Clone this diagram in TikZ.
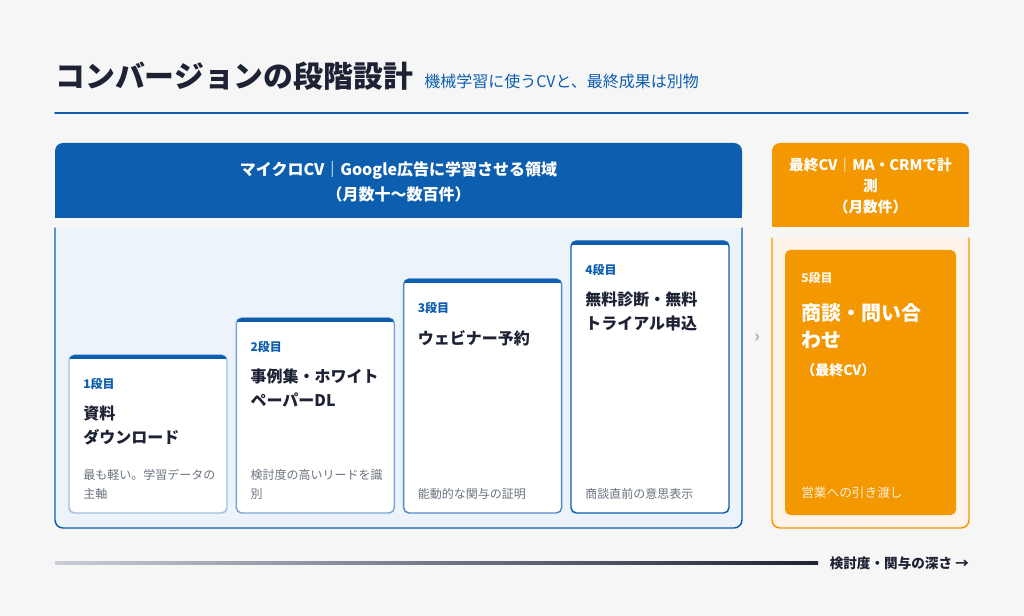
\documentclass[tikz,border=0pt]{standalone}
\usepackage{fontspec}
\setmainfont{Noto Sans CJK JP}
\usetikzlibrary{positioning}
\definecolor{cvbg}{HTML}{F6F6F6}
\definecolor{cvblue}{HTML}{0D5EAF}
\definecolor{cvpanel}{HTML}{EDF3FA}
\definecolor{cvorange}{HTML}{F39800}
\definecolor{cvcream}{HTML}{FDF3E8}
\definecolor{cvink}{HTML}{1E2235}
\definecolor{cvgray}{HTML}{6B7280}
\definecolor{cvlight}{HTML}{C9CDD6}
\tikzset{
	steplab/.style={anchor=west, inner sep=0, text=cvblue, font=\bfseries\fontsize{9}{11}\selectfont},
	steptitle/.style={anchor=north west, inner sep=0, align=left, text=cvink, font=\bfseries\fontsize{12}{18}\selectfont},
	stepdesc/.style={anchor=south west, inner sep=0, align=left, text=cvgray, font=\fontsize{9}{14.2}\selectfont},
	headtext/.style={align=center, inner sep=0, text=white, font=\bfseries\fontsize{12}{18.5}\selectfont}
}
\begin{document}
\begin{tikzpicture}[x=0.75pt,y=-0.75pt, line join=round, line cap=round]
	\def\W{1024} \def\H{616}
	\def\cw{158} \def\cbot{513}
	\fill[cvbg] (0,0) rectangle (\W,\H);
	% tieu de
	\node[anchor=west, inner sep=0, text=cvink, font=\bfseries\fontsize{22.4}{26}\selectfont] (title) at (55,76) {コンバージョンの段階設計};
	\node[anchor=base west, inner sep=0, text=cvblue, font=\fontsize{12}{14}\selectfont] (subtitle) at ([xshift=8pt]title.base east) {機械学習に使うCVと、最終成果は別物};
	\draw[cvblue, line width=1.2pt] (55,113)--(968,113);
	% vung xanh
	\fill[cvblue, rounded corners=6] (55,143) rectangle (742,218);
	\fill[cvblue] (55,180) rectangle (742,218);
	\node[headtext] (microhead) at (398.5,181.5) {マイクロCV｜Google広告に学習させる領域\\（月数十〜数百件）};
	\draw[cvblue, line width=1.1pt, fill=cvpanel, rounded corners=6] (55,228)--(55,528)--(742,528)--(742,228);
	\foreach \i/\top/\shade/\lab/\ttl/\desc in {
		1/355/40/1段目/{資料\\ダウンロード}/{最も軽い。学習データの\\主軸},
		2/318/55/2段目/{事例集・ホワイト\\ペーパーDL}/{検討度の高いリードを識\\別},
		3/279/72/3段目/{ウェビナー予約}/{能動的な関与の証明},
		4/241/100/4段目/{無料診断・無料\\トライアル申込}/{商談直前の意思表示}}
	{
		\pgfmathsetmacro\cl{69+(\i-1)*167.33}
		\draw[fill=white, draw=cvblue!\shade!white, line width=1.1pt, rounded corners=4] (\cl,\top) rectangle (\cl+\cw,\cbot);
		\begin{scope}
			\clip[rounded corners=4] (\cl,\top) rectangle (\cl+\cw,\cbot);
			\fill[cvblue] (\cl-2,\top-2) rectangle (\cl+\cw+2,\top+4);
		\end{scope}
		\node[steplab] (lab\i) at (\cl+14,\top+28.5) {\lab};
		\node[steptitle] (ttl\i) at (\cl+14,\top+51) {\ttl};
		\node[stepdesc] (desc\i) at (\cl+14,500) {\desc};
	}
	\node[text=gray!60, inner sep=0, font=\bfseries\fontsize{13}{13}\selectfont] (chev) at (757,338) {›};
	% vung cam
	\fill[cvorange, rounded corners=6] (772,143) rectangle (969,227);
	\fill[cvorange] (772,185) rectangle (969,227);
	\node[headtext, font=\bfseries\fontsize{11}{15.8}\selectfont] (finalhead) at (870.5,186) {最終CV｜MA・CRMで計\\測\\（月数件）};
	\draw[cvorange, line width=1.1pt, fill=cvcream, rounded corners=6] (772,238)--(772,528)--(969,528)--(969,238);
	\fill[cvorange, rounded corners=4] (785,250) rectangle (956,515);
	\node[steplab, text=white!90!cvorange] (lab5) at (801,278) {5段目};
	\node[steptitle, text=white, font=\bfseries\fontsize{15}{20.3}\selectfont] (ttl5) at (801,303) {商談・問い合\\わせ};
	\node[anchor=west, inner sep=0, text=white, font=\bfseries\fontsize{10.5}{12}\selectfont] (note5) at (801,370.5) {（最終CV）};
	\node[stepdesc, text=white!85!cvorange, font=\fontsize{9.5}{14}\selectfont] (desc5) at (801,499) {営業への引き渡し};
	% truc
	\node[anchor=west, inner sep=0, text=cvink, font=\bfseries\fontsize{10.2}{12}\selectfont] (axlabel) at (829.5,563) {検討度・関与の深さ →};
	\coordinate (axL) at (55,563);
	\coordinate (axR) at ([xshift=-8.5pt]axlabel.west);
	\shade[left color=cvlight, right color=cvink] ([yshift=0.8pt]axL) rectangle ([yshift=-0.8pt]axR);
\end{tikzpicture}
\end{document}
